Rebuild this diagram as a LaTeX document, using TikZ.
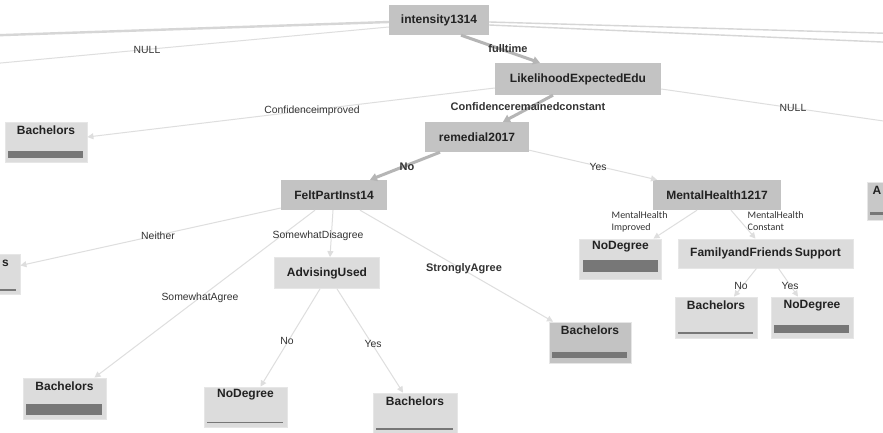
\documentclass[tikz,border=0pt]{standalone}
\usepackage{fontspec}
\setmainfont{Liberation Sans}
\newfontfamily\splitfont{Carlito}
\usetikzlibrary{arrows.meta}

\definecolor{nodedark}{HTML}{C3C3C3}
\definecolor{nodelight}{HTML}{DCDCDC}
\definecolor{leafedge}{HTML}{E6E6E6}
\definecolor{barfill}{HTML}{777777}
\definecolor{thinedge}{HTML}{DEDEDE}
\definecolor{thickedge}{HTML}{B5B5B5}
\definecolor{sideedge}{HTML}{D6D6D6}
\definecolor{titletext}{HTML}{222222}
\definecolor{labeltext}{HTML}{333333}

\tikzset{
  decision/.style={rectangle, inner sep=0pt, fill=nodedark,
    font=\fontsize{12}{14}\selectfont\bfseries, text=titletext},
  decisionlight/.style={decision, fill=nodelight, draw=leafedge, line width=0.8pt},
  leafbox/.style={rectangle, inner sep=0pt, fill=nodelight, draw=leafedge,
    line width=0.8pt, minimum width=82pt, minimum height=40pt},
  leafboxdark/.style={leafbox, fill=nodedark},
  leaftitle/.style={inner sep=0pt, font=\fontsize{12}{14}\selectfont\bfseries, text=titletext},
  thinlink/.style={draw=thinedge, line width=1pt,
    -{Triangle[length=6pt,width=6pt]}},
  thicklink/.style={draw=thickedge, line width=3pt,
    -{Triangle[length=7pt,width=8pt]}},
  sidelink/.style={draw=sideedge, line width=1.4pt},
  edgelabel/.style={inner sep=0pt, font=\fontsize{10.4}{12}\selectfont, text=labeltext},
  edgelabelbold/.style={edgelabel, font=\fontsize{11}{13}\selectfont\bfseries},
  splitlabel/.style={inner sep=0pt, font=\splitfont\fontsize{10}{11.5}\selectfont,
    text=labeltext, align=left, anchor=north west},
}

% bar at the bottom of a leaf box: #2 and #3 are heights above the bottom edge
\newcommand\leafbar[3]{\fill[barfill] ([shift={(3.5pt,#2)}]#1.south west) rectangle ([shift={(-4pt,#3)}]#1.south east);}
\newcommand\leafline[2]{\draw[barfill, line width=1.2pt] ([shift={(3.5pt,#2)}]#1.south west) -- ([shift={(-4pt,#2)}]#1.south east);}

\begin{document}
\begin{tikzpicture}[x=1pt, y=-1pt]
\useasboundingbox (0,0) rectangle (883,433);
\clip (0,0) rectangle (883,433);
\fill[white] (0,0) rectangle (883,433);

% decision nodes
\node[decision, minimum width=100pt, minimum height=30pt] (int) at (439,20) {intensity1314};
\node[decision, minimum width=166pt, minimum height=32pt] (lik) at (578,79) {LikelihoodExpectedEdu};
\node[decision, minimum width=104pt, minimum height=30pt] (rem) at (477,137) {remedial2017};
\node[decision, minimum width=106pt, minimum height=30pt] (felt) at (334,195) {FeltPartInst14};
\node[decision, minimum width=128pt, minimum height=30pt] (mh) at (717,195) {MentalHealth1217};
\node[decisionlight, minimum width=105pt, minimum height=31pt] (adv) at (327,273) {AdvisingUsed};
\node[decisionlight, minimum width=175pt, minimum height=29pt] (ffs) at (765.5,253.5) {FamilyandFriends\,Support};

% leaf nodes
\node[leafbox] (bTL) at (46,142) {};
\node[leaftitle] (bTLt) at ([yshift=-9pt]bTL.north) {Bachelors};
\leafbar{bTL}{4pt}{11pt}

\node[leafbox] (bN) at (-21,274.5) {};
\node[leaftitle, anchor=east] (bNt) at ([shift={(30pt,-9pt)}]bN.north) {s};
\leafline{bN}{5pt}

\node[leafbox] (nd1) at (620.5,259) {};
\node[leaftitle] (nd1t) at ([yshift=-8.5pt]nd1.north) {NoDegree};
\leafbar{nd1}{7pt}{19pt}

\node[leafboxdark, minimum height=41pt] (bSA) at (590,342.5) {};
\node[leaftitle] (bSAt) at ([yshift=-9pt]bSA.north) {Bachelors};
\leafbar{bSA}{5pt}{11pt}

\node[leafbox, minimum height=41pt] (bFF) at (716,317.5) {};
\node[leaftitle] (bFFt) at ([yshift=-9pt]bFF.north) {Bachelors};
\leafline{bFF}{5.5pt}

\node[leafbox, minimum height=41pt] (ndFF) at (812,317.5) {};
\node[leaftitle] (ndFFt) at ([yshift=-9pt]ndFF.north) {NoDegree};
\leafbar{ndFF}{5pt}{13pt}

\node[leafbox, minimum width=83pt, minimum height=41pt] (bSW) at (64.5,398.5) {};
\node[leaftitle] (bSWt) at ([yshift=-9pt]bSW.north) {Bachelors};
\leafbar{bSW}{4pt}{15pt}

\node[leafbox, minimum width=83pt] (ndA) at (245.5,407) {};
\node[leaftitle] (ndAt) at ([yshift=-8.5pt]ndA.north) {NoDegree};
\leafline{ndA}{5pt}

\node[leafbox, minimum width=84pt, minimum height=41pt] (bA) at (415,413.5) {};
\node[leaftitle] (bAt) at ([yshift=-9pt]bA.north) {Bachelors};
\leafline{bA}{5.5pt}

\node[leafbox, fill=nodedark!80!nodelight, minimum height=38pt] (aR) at (908,201) {};
\node[leaftitle, anchor=west] (aRt) at ([shift={(-35.5pt,-9pt)}]aR.north) {A};
\leafbar{aR}{5pt}{8pt}

% branches running off the sides
\coordinate (offL1) at (-10,35.5);
\coordinate (offL2) at (-10,64);
\coordinate (offR1) at (893,33.5);
\coordinate (offR2) at (893,42.5);
\coordinate (offR3) at (960,132);
\draw[sidelink, line width=2.4pt] ([yshift=-2pt]int.west) -- (offL1);
\draw[thinedge, line width=1pt] ([yshift=-7pt]int.west) -- (offL2);
\draw[sidelink] ([yshift=-2pt]int.east) -- (offR1);
\draw[sidelink] ([yshift=-5pt]int.east) -- (offR2);
\draw[thinedge, line width=1pt] ([yshift=-10pt]lik.east) -- (offR3);

% connectors between nodes
\draw[thicklink] ([xshift=22pt]int.south) -- ([xshift=-38pt]lik.north);
\draw[thinlink] ([yshift=-9pt]lik.west) -- ([yshift=5pt]bTL.east);
\draw[thicklink] ([xshift=-25pt]lik.south) -- ([xshift=26pt]rem.north);
\draw[thicklink] ([xshift=-37pt]rem.south) -- ([xshift=36pt]felt.north);
\draw[thinlink] ([yshift=2pt]rem.south east) -- ([xshift=-60pt]mh.north);
\draw[thinlink] ([xshift=-20pt]mh.south) -- ([xshift=33pt]nd1.north);
\draw[thinlink] ([xshift=14pt]mh.south) -- ([xshift=-10pt]ffs.north);
\draw[thinlink] ([xshift=-9pt]ffs.south) -- ([xshift=18pt]bFF.north);
\draw[thinlink] ([xshift=13pt]ffs.south) -- ([xshift=-14pt]ndFF.north);
\draw[thinlink] ([yshift=-13pt]felt.west) -- ([yshift=9pt]bN.east);
\draw[thinlink] ([xshift=-19pt]felt.south) -- ([xshift=30pt]bSW.north);
\draw[thinlink] ([xshift=-1pt]felt.south) -- ([xshift=3pt]adv.north);
\draw[thinlink] ([xshift=26pt]felt.south) -- ([xshift=-37pt]bSA.north);
\draw[thinlink] ([xshift=-7pt]adv.south) -- ([xshift=15pt]ndA.north);
\draw[thinlink] ([xshift=10pt]adv.south) -- ([xshift=-12pt]bA.north);

% branch labels
\node[edgelabel] (lNullL) at (147,50) {NULL};
\node[edgelabelbold] (lFull) at (508,49) {fulltime};
\node[edgelabel] (lConfI) at (312,111) {Confidenceimproved};
\node[edgelabelbold] (lConfC) at (528,107) {Confidenceremainedconstant};
\node[edgelabel] (lNullR) at (793,108) {NULL};
\node[edgelabelbold] (lRemNo) at (407,167) {No};
\node[edgelabel] (lRemYes) at (598,167) {Yes};
\node[splitlabel] (lMhI) at (611.5,211.5) {MentalHealth\\Improved};
\node[splitlabel] (lMhC) at (747.5,211.5) {MentalHealth\\Constant};
\node[edgelabel] (lFfNo) at (741,286) {No};
\node[edgelabel] (lFfYes) at (790,286) {Yes};
\node[edgelabel] (lNei) at (158,236) {Neither};
\node[edgelabel] (lSwD) at (318,236) {SomewhatDisagree};
\node[edgelabel] (lSwA) at (200,298) {SomewhatAgree};
\node[edgelabelbold] (lStA) at (464,269) {StronglyAgree};
\node[edgelabel] (lAdvNo) at (287,341) {No};
\node[edgelabel] (lAdvYes) at (373,344) {Yes};
\end{tikzpicture}
\end{document}
